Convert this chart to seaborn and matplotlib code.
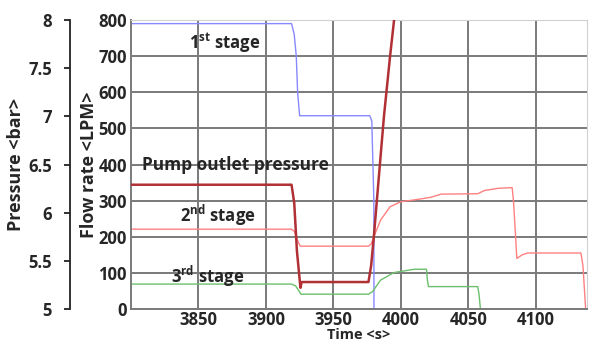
import numpy as np
import pandas as pd
import seaborn as sns
import matplotlib.pyplot as plt
from matplotlib.ticker import FuncFormatter

# time <s> / flow rate <LPM>
t_1st = [3800, 3919, 3921, 3922.5, 3923.5, 3925, 3977, 3978.5, 3980, 3980.1]
q_1st = [790, 790, 760, 700, 600, 535, 535, 520, 300, 0]

t_2nd = [3800, 3919, 3921, 3924, 3925.5, 3976, 3978, 3980, 3985, 3992, 4000,
         4010, 4022, 4030, 4057, 4062, 4072, 4082.5, 4083.5, 4086, 4090, 4094,
         4133.5, 4135, 4137]
q_2nd = [221, 221, 215, 185, 174, 174, 180, 200, 246, 283, 297,
         302, 309, 318, 319, 328, 334, 336, 300, 140, 150, 155,
         155, 120, 0]

t_3rd = [3800, 3919, 3922, 3926, 3976, 3979, 3985, 3995, 4000, 4010, 4019,
         4019.7, 4020.5, 4057, 4058, 4059]
q_3rd = [69, 69, 64, 41, 41, 48, 80, 101, 104, 110, 110,
         80, 62, 62, 40, 0]

# pump outlet pressure <bar>
t_pump = [3800, 3919, 3921, 3923, 3925.6, 3926.5, 3976, 3978, 3980, 3984,
          3987.5, 3992, 3995, 3996]
p_pump = [6.29, 6.29, 6.1, 5.6, 5.22, 5.28, 5.28, 5.45, 5.75, 6.42,
          7.0, 7.62, 8.0, 8.1]

x_ticks = [3850, 3900, 3950, 4000, 4050, 4100]
flow_ticks = [0, 100, 200, 300, 400, 500, 600, 700, 800]
pres_ticks = [5, 5.5, 6, 6.5, 7, 7.5, 8]

sns.set_style("white")
plt.rcParams['font.family'] = ['Open Sans', 'DejaVu Sans']
plt.rcParams['font.weight'] = 'bold'

fig = plt.figure(figsize=(5.96, 3.45), dpi=100)
ax = fig.add_axes([131 / 596, 1 - 309 / 345, 456 / 596, 289 / 345])

sns.lineplot(x=t_1st, y=q_1st, ax=ax, color="#8888ff", lw=1.0, sort=False)
sns.lineplot(x=t_2nd, y=q_2nd, ax=ax, color="#ff8080", lw=1.0, sort=False)
sns.lineplot(x=t_3rd, y=q_3rd, ax=ax, color="#6cbf6c", lw=1.0, sort=False)

ax.set_xlim(3800, 4138)
ax.set_ylim(0, 800)
ax.set_xticks(x_ticks)
ax.set_yticks(flow_ticks)
ax.grid(True, color="#7a7a7a", lw=1.4)
ax.set_axisbelow(True)
ax.tick_params(axis="y", labelsize=12, length=0, pad=3)
ax.tick_params(axis="x", labelsize=12, length=0, pad=1.5)
for lab in ax.get_xticklabels() + ax.get_yticklabels():
    lab.set_fontweight("bold")
ax.set_ylabel("Flow rate <LPM>", fontsize=13, fontweight="bold", labelpad=0)
ax.set_xlabel("Time <s>", fontsize=10.5, fontweight="bold", labelpad=-1)
for side in ["top", "right"]:
    ax.spines[side].set_color("#d0d0d0")
for side in ["left", "bottom"]:
    ax.spines[side].set_color("#7a7a7a")
    ax.spines[side].set_linewidth(1.4)

# pressure axis, outside on the left
ax2 = ax.twinx()
ax2.plot(t_pump, p_pump, color="#b03035", lw=1.8)
ax2.set_ylim(5, 8)
ax2.set_yticks(pres_ticks)
ax2.yaxis.set_major_formatter(FuncFormatter(lambda v, pos: f"{v:g}"))
ax2.yaxis.set_ticks_position("left")
ax2.yaxis.set_label_position("left")
ax2.spines["left"].set_visible(True)
ax2.spines["left"].set_position(("outward", 44))
ax2.spines["left"].set_color("#222222")
ax2.spines["left"].set_linewidth(1.3)
for side in ["top", "right", "bottom"]:
    ax2.spines[side].set_visible(False)
ax2.tick_params(axis="y", labelsize=12, length=4, width=1.3, color="#222222", pad=9)
for lab in ax2.get_yticklabels():
    lab.set_fontweight("bold")
ax2.set_ylabel("Pressure <bar>", fontsize=13, fontweight="bold", labelpad=2)

ax.text(3843, 735, "1$^{\\mathregular{st}}$ stage", fontsize=12, fontweight="bold",
        va="center", ha="left")
ax.text(3808, 398, "Pump outlet pressure", fontsize=12.5, fontweight="bold",
        va="center", ha="left")
ax.text(3836, 258, "2$^{\\mathregular{nd}}$ stage", fontsize=12, fontweight="bold",
        va="center", ha="left")
ax.text(3830, 90, "3$^{\\mathregular{rd}}$ stage", fontsize=12, fontweight="bold",
        va="center", ha="left")

fig.savefig("out.png", dpi=100)
